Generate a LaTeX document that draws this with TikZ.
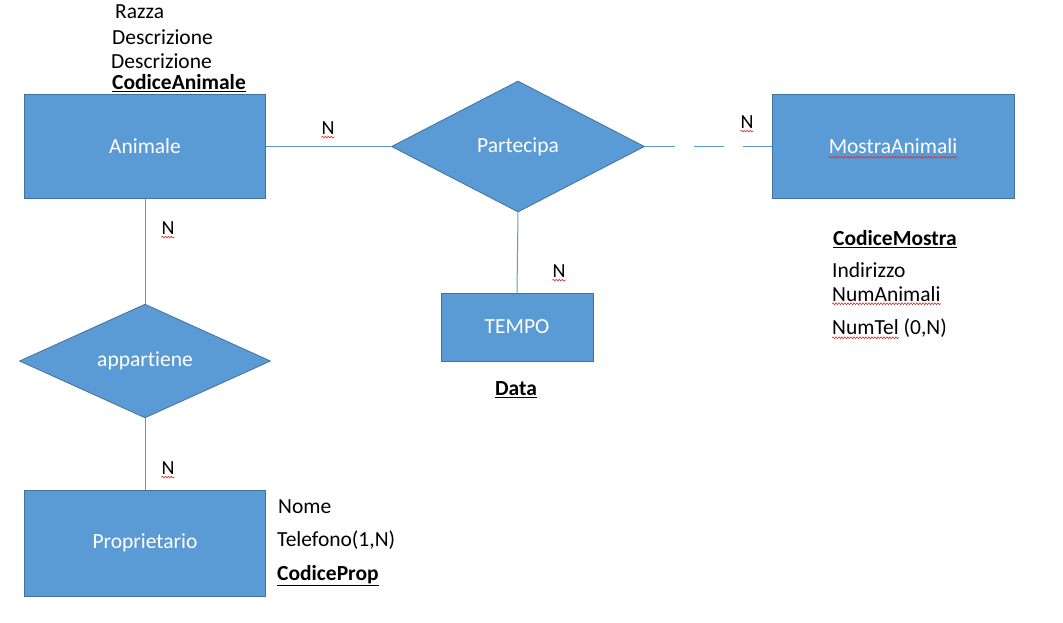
\documentclass[tikz,border=0pt]{standalone}
\usepackage{fontspec}
\setmainfont{Carlito}[Ligatures=NoCommon]
\usetikzlibrary{shapes.geometric,decorations.pathmorphing}
\definecolor{erfill}{HTML}{5B9BD5}
\definecolor{erborder}{HTML}{41719C}
\definecolor{erline}{HTML}{5B9BD5}
\definecolor{spell}{HTML}{E03030}
\tikzset{
  entity/.style={rectangle, fill=erfill, draw=erborder, line width=0.8pt, text=white, minimum width=241pt, minimum height=104pt, inner sep=0pt, font=\fontsize{21.5}{25}\selectfont},
  relation/.style={diamond, fill=erfill, draw=erborder, line width=0.8pt, text=white, inner sep=0pt, font=\fontsize{21.5}{25}\selectfont},
  attr/.style={anchor=west, inner sep=0pt, font=\fontsize{21.5}{25}\selectfont},
  card/.style={inner sep=0pt, font=\fontsize{20}{24}\selectfont},
  conn/.style={draw=erline, line width=1pt},
  squiggle/.style={draw=spell, line width=0.6pt, decorate, decoration={snake, segment length=3pt, amplitude=0.9pt}}
}
\begin{document}
\begin{tikzpicture}[x=1pt,y=-1pt]
\useasboundingbox[fill=white] (0,0) rectangle (1063,622);
% entities
\node[entity] (animale) at (145,146.5) {Animale};
\node[entity, minimum width=242pt] (mostra) at (893,146.5) {MostraAnimali};
\node[entity, minimum height=106pt] (prop) at (145,543) {Proprietario};
\node[entity, minimum width=152pt, minimum height=68pt] (tempo) at (517,327) {TEMPO};
% relations
\node[relation, minimum width=253pt, minimum height=131pt] (partecipa) at (518,146.5) {Partecipa};
\node[relation, minimum width=251pt, minimum height=103pt] (appartiene) at (145,361) {appartiene};
% connectors
\draw[conn] (animale.east) -- (partecipa.west);
\draw[conn, dash pattern=on 30pt off 19pt] (partecipa.east) -- (mostra.west);
\draw[conn] (partecipa.south) -- (tempo.north);
\draw[conn] (animale.south) -- (appartiene.north);
\draw[conn] (appartiene.south) -- (prop.north);
% cardinalities
\node[card] (n1) at (328,128) {N};
\node[card] (n2) at (747,122) {N};
\node[card] (n3) at (168,228) {N};
\node[card] (n4) at (559,271) {N};
\node[card] (n5) at (168,468) {N};
\foreach \n in {n1,n2,n3,n4,n5}{
  \draw[squiggle] ([yshift=-2.5pt]\n.south west) -- ([yshift=-2.5pt]\n.south east);
}
% attributes of Animale
\node[attr] (razza) at (115,12) {Razza};
\node[attr] (descr1) at (112,37) {Descrizione};
\node[attr] (descr2) at (111,61) {Descrizione};
\node[attr] (codan) at (112,83) {\textbf{\underline{CodiceAnimale}}};
% attributes of MostraAnimali
\node[attr] (codmo) at (833,239) {\textbf{\underline{CodiceMostra}}};
\node[attr] (indir) at (832,270) {Indirizzo};
\node[attr] (numan) at (832,294) {NumAnimali};
\node[attr] (numtel) at (832,328) {NumTel (0,N)};
% attributes of TEMPO
\node[attr, anchor=center] (data) at (516,390) {\textbf{\underline{Data}}};
% attributes of Proprietario
\node[attr] (nome) at (278,507) {Nome};
\node[attr] (tel) at (277,540) {Telefono(1,N)};
\node[attr] (codpr) at (277,576) {\textbf{\underline{CodiceProp}}};
% spell-check marks
\node[inner sep=0pt, font=\fontsize{21.5}{25}\selectfont, anchor=center] (mostratxt) at (893,146.5) {\phantom{MostraAnimali}};
\draw[squiggle] ([yshift=-3pt]mostratxt.south west) -- ([yshift=-3pt]mostratxt.south east);
\draw[squiggle] ([yshift=-2pt]numan.south west) -- ([yshift=-2pt]numan.south east);
\node[attr] (numtelw) at (832,328) {\phantom{NumTel}};
\draw[squiggle] ([yshift=-2pt]numtelw.south west) -- ([yshift=-2pt]numtelw.south east);
\end{tikzpicture}
\end{document}
